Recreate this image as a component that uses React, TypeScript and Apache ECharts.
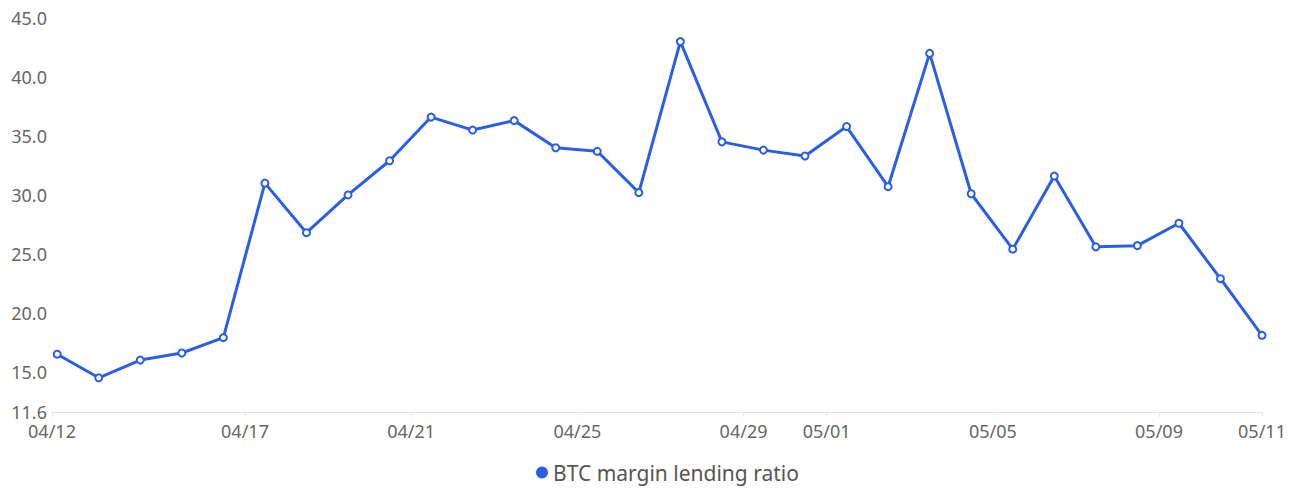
import { useEffect, useRef } from 'react';
import * as echarts from 'echarts';

// daily samples, taken around 11:30 local time
const dates = [
  '2024-04-12', '2024-04-13', '2024-04-14', '2024-04-15', '2024-04-16',
  '2024-04-17', '2024-04-18', '2024-04-19', '2024-04-20', '2024-04-21',
  '2024-04-22', '2024-04-23', '2024-04-24', '2024-04-25', '2024-04-26',
  '2024-04-27', '2024-04-28', '2024-04-29', '2024-04-30', '2024-05-01',
  '2024-05-02', '2024-05-03', '2024-05-04', '2024-05-05', '2024-05-06',
  '2024-05-07', '2024-05-08', '2024-05-09', '2024-05-10', '2024-05-11'
];
const sampleTime = '11:30';

const lendingRatio = [
  16.5, 14.5, 16.0, 16.6, 17.9,
  31.0, 26.8, 30.0, 32.9, 36.6,
  35.5, 36.3, 34.0, 33.7, 30.2,
  43.0, 34.5, 33.8, 33.3, 35.8,
  30.7, 42.0, 30.1, 25.4, 31.6,
  25.6, 25.7, 27.6, 22.9, 18.1
];

const axisStart = '2024-04-12T08:30:00';
const tickDates = [
  '2024-04-17', '2024-04-21', '2024-04-25', '2024-04-29',
  '2024-05-01', '2024-05-05', '2024-05-09'
];

const yMin = 11.6;
const yMax = 45;

const toTime = (s: string) => new Date(s).getTime();
const pad = (n: number) => (n < 10 ? '0' + n : '' + n);

export default function App() {
  const chartRef = useRef<HTMLDivElement>(null);

  useEffect(() => {
    if (!chartRef.current) return;
    const chart = echarts.init(chartRef.current, null, { renderer: 'svg' });

    const points = dates.map((d, i) => [toTime(d + 'T' + sampleTime + ':00'), lendingRatio[i]]);
    const xMin = toTime(axisStart);
    const xMax = points[points.length - 1][0];
    const ticks = [xMin, ...tickDates.map((d) => toTime(d + 'T00:00:00')), xMax];

    const font = '"Noto Sans", sans-serif';

    chart.setOption({
      animation: false,
      grid: {
        left: 52,
        right: 30,
        top: 18,
        bottom: 89
      },
      legend: {
        bottom: 13,
        left: 531,
        icon: 'circle',
        itemWidth: 12,
        itemHeight: 12,
        itemGap: 10,
        textStyle: {
          color: '#555',
          fontSize: 21,
          fontFamily: font
        }
      },
      xAxis: {
        // timestamps on a plain value axis so the tick dates can be listed
        type: 'value',
        min: xMin,
        max: xMax,
        axisLine: { lineStyle: { color: '#e6e6e6' } },
        axisTick: { show: true, customValues: ticks, length: 5, lineStyle: { color: '#e6e6e6' } },
        splitLine: { show: false },
        axisLabel: {
          customValues: ticks,
          color: '#666',
          fontSize: 18,
          lineHeight: 14,
          fontFamily: font,
          margin: 12,
          hideOverlap: false,
          formatter: (value: number) => {
            const d = new Date(value);
            return pad(d.getMonth() + 1) + '/' + pad(d.getDate());
          }
        }
      },
      yAxis: {
        type: 'value',
        min: yMin,
        max: yMax,
        axisLine: { show: false },
        axisTick: { show: false },
        splitLine: { show: false },
        axisLabel: {
          color: '#666',
          fontSize: 18,
          lineHeight: 14,
          fontFamily: font,
          margin: 5,
          formatter: (value: number) => value.toFixed(1)
        }
      },
      series: [
        {
          name: 'BTC margin lending ratio',
          type: 'line',
          data: points,
          symbol: 'emptyCircle',
          symbolSize: 7,
          showAllSymbol: true,
          itemStyle: { color: '#2b5fe3', borderWidth: 2 },
          lineStyle: { color: '#2b5fe3', width: 3 }
        }
      ]
    });

    return () => {
      chart.dispose();
    };
  }, []);

  return (
    <div
      ref={chartRef}
      style={{ position: 'fixed', left: 0, top: 0, width: 1292, height: 501, background: '#fff' }}
    />
  );
}
